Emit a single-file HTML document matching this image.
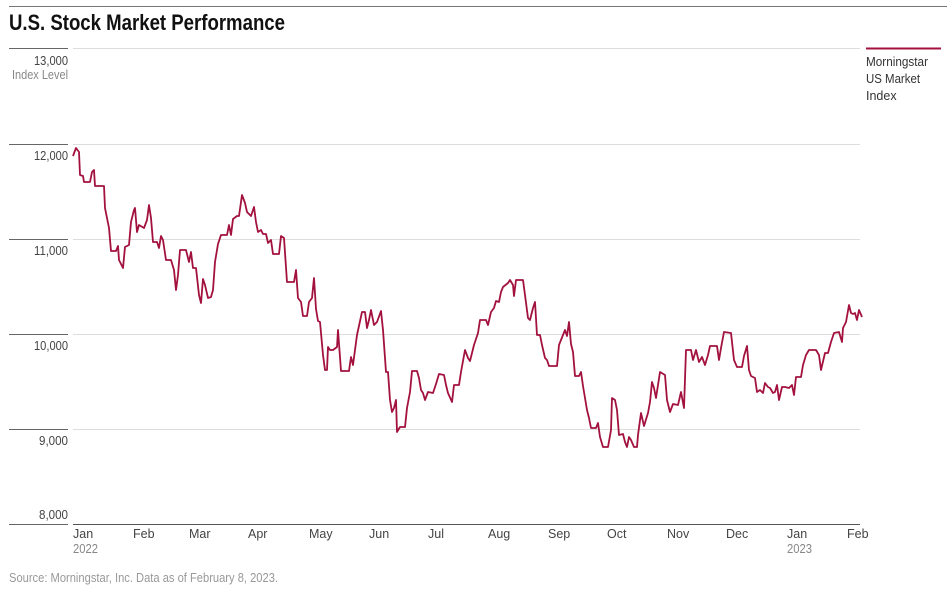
<!DOCTYPE html>
<html><head><meta charset="utf-8"><style>
html,body{margin:0;padding:0;background:#fff;}
svg{display:block;font-family:"Liberation Sans Narrow","Liberation Sans",sans-serif;}
</style></head><body>
<svg width="947" height="590" viewBox="0 0 947 590" xmlns="http://www.w3.org/2000/svg">
<line x1="9" y1="6.5" x2="947" y2="6.5" stroke="#777" stroke-width="1"/>
<text x="9" y="30" font-size="22" font-weight="bold" fill="#111" textLength="276" lengthAdjust="spacingAndGlyphs">U.S. Stock Market Performance</text>
<g stroke="#ddd" stroke-width="1">
<line x1="73" y1="48.5" x2="860" y2="48.5"/>
<line x1="73" y1="144.5" x2="860" y2="144.5"/>
<line x1="73" y1="239.5" x2="860" y2="239.5"/>
<line x1="73" y1="334.5" x2="860" y2="334.5"/>
<line x1="73" y1="429.5" x2="860" y2="429.5"/>
</g>
<line x1="73" y1="524.5" x2="860" y2="524.5" stroke="#555" stroke-width="1"/>
<g stroke="#666" stroke-width="1">
<line x1="9" y1="48.5" x2="68" y2="48.5"/>
<line x1="9" y1="144.5" x2="68" y2="144.5"/>
<line x1="9" y1="239.5" x2="68" y2="239.5"/>
<line x1="9" y1="334.5" x2="68" y2="334.5"/>
<line x1="9" y1="429.5" x2="68" y2="429.5"/>
<line x1="9" y1="524.5" x2="68" y2="524.5"/>
</g>
<g font-size="12.5" fill="#444" text-anchor="end" lengthAdjust="spacingAndGlyphs">
<text x="68" y="65" textLength="34" lengthAdjust="spacingAndGlyphs">13,000</text>
<text x="68" y="79" fill="#888" textLength="56" lengthAdjust="spacingAndGlyphs">Index Level</text>
<text x="68" y="160" textLength="34" lengthAdjust="spacingAndGlyphs">12,000</text>
<text x="68" y="255" textLength="34" lengthAdjust="spacingAndGlyphs">11,000</text>
<text x="68" y="350" textLength="34" lengthAdjust="spacingAndGlyphs">10,000</text>
<text x="68" y="445" textLength="29" lengthAdjust="spacingAndGlyphs">9,000</text>
<text x="68" y="519" textLength="29" lengthAdjust="spacingAndGlyphs">8,000</text>
</g>
<g font-size="12.5" fill="#444">
<text x="73" y="538">Jan</text><text x="73" y="553" fill="#888" textLength="25" lengthAdjust="spacingAndGlyphs">2022</text>
<text x="133" y="538">Feb</text>
<text x="189" y="538">Mar</text>
<text x="248" y="538">Apr</text>
<text x="309" y="538">May</text>
<text x="369" y="538">Jun</text>
<text x="428" y="538">Jul</text>
<text x="488" y="538">Aug</text>
<text x="548" y="538">Sep</text>
<text x="607" y="538">Oct</text>
<text x="667" y="538">Nov</text>
<text x="726" y="538">Dec</text>
<text x="787" y="538">Jan</text><text x="787" y="553" fill="#888" textLength="25" lengthAdjust="spacingAndGlyphs">2023</text>
<text x="847" y="538">Feb</text>
</g>
<text x="9" y="582" font-size="12.5" fill="#999" textLength="269" lengthAdjust="spacingAndGlyphs">Source: Morningstar, Inc. Data as of February 8, 2023.</text>
<line x1="866" y1="48.5" x2="941" y2="48.5" stroke="#a3123f" stroke-width="2"/>
<g font-size="12.5" fill="#333"><text x="866" y="66" textLength="62" lengthAdjust="spacingAndGlyphs">Morningstar</text><text x="866" y="83" textLength="54" lengthAdjust="spacingAndGlyphs">US Market</text><text x="866" y="100">Index</text></g>
<polyline fill="none" stroke="#a3123f" stroke-width="1.8" stroke-linejoin="round" points="73,156 76,148 79,152 80,175 83,176 84,182 90,182 92,172 94,170 95,186 104,186 105,208 109,228 111,251 116,251 118,246 119,260 123,268 125,247 129,245 131,222 134,210 135,208 137,232 139,225 144,228 147,220 149,205 151,218 153,242 157,242 159,248 161,236 163,240 166,260 171,260 174,270 176,290 178,275 180,250 186,250 189,262 191,252 193,268 196,268 199,295 201,303 203,279 205,285 208,298 211,297 213,290 215,262 218,244 221,235 227,235 229,225 231,235 233,219 237,216 239,216 242,195 245,203 247,212 251,216 254,207 256,222 258,232 261,230 263,234 266,234 268,243 271,240 273,254 279,254 281,236 284,238 287,282 294,282 296,270 298,298 301,302 303,316 307,316 309,302 312,298 314,278 316,309 318,321 320,322 323,355 325,370 327,370 328,347 330,350 333,350 337,347 338,330 341,371 349,371 351,357 353,365 357,335 362,312 365,312 367,328 369,320 371,310 374,325 377,322 381,311 383,330 386,372 388,372 390,400 392,412 394,408 396,400 397,432 400,427 405,427 407,408 410,392 412,371 417,371 419,378 421,390 423,393 425,400 428,392 433,393 436,384 439,374 444,375 446,385 448,393 452,402 454,385 459,385 461,372 465,350 468,358 470,361 474,345 478,333 480,320 486,320 488,325 491,312 494,308 496,301 499,302 501,292 503,287 508,283 510,280 513,285 514,296 516,280 523,280 525,295 528,318 530,320 533,308 535,302 537,335 540,335 542,345 545,358 547,360 549,366 557,366 559,345 563,335 565,330 567,336 569,322 571,344 573,352 575,376 579,376 581,372 583,386 587,410 589,418 591,428 596,428 598,423 600,437 603,447 608,447 611,430 612,398 615,400 617,410 619,435 623,434 625,442 627,447 629,437 631,440 634,447 637,447 638,435 641,413 644,426 648,413 650,402 652,382 654,388 656,398 660,372 665,375 667,400 670,412 673,404 678,405 681,392 684,408 686,350 691,350 693,360 696,350 699,362 702,357 705,365 708,355 710,346 717,346 719,360 721,348 724,332 731,333 734,360 737,367 742,367 744,356 747,346 749,370 751,376 755,378 757,392 760,390 763,393 765,383 768,387 770,388 773,393 775,392 777,385 779,400 782,387 785,387 789,388 792,385 794,395 796,377 801,377 803,365 806,355 809,350 816,350 819,355 821,370 825,353 828,353 831,342 834,333 839,332 842,342 843,328 846,322 849,305 851,313 853,314 855,313 857,320 859,310 862,317"/>
</svg>
</body></html>
